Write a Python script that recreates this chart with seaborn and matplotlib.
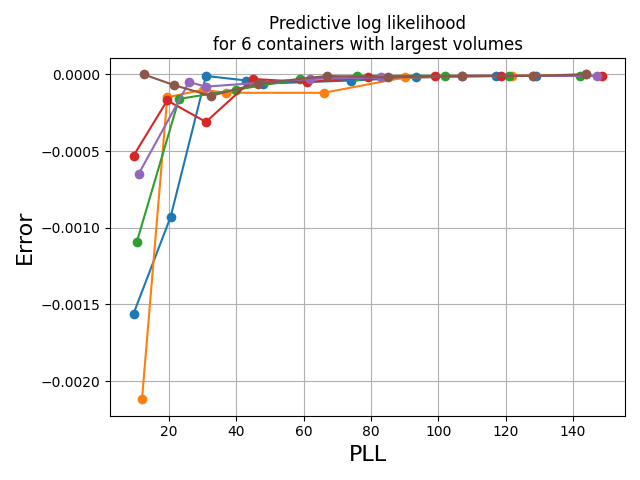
import matplotlib
matplotlib.use("Agg")
import matplotlib.pyplot as plt
import seaborn as sns
import pandas as pd

blue_x = [9.5, 20.5, 31, 43, 48, 74, 93.5, 117, 129]
blue_y = [-0.00156, -0.00093, -0.00001, -0.00004, -0.00006, -0.00004, -0.00002, -0.00001, -0.00001]
orange_x = [12, 19.5, 30, 37, 66, 90, 122, 144]
orange_y = [-0.00212, -0.00015, -0.0001, -0.00012, -0.00012, -0.00002, -0.00001, 0.0]
green_x = [10.5, 23, 40, 59, 76, 102, 121, 142]
green_y = [-0.00109, -0.00016, -0.0001, -0.00003, -0.00001, -0.00001, -0.00001, -0.00001]
red_x = [9.5, 19.5, 31, 45, 61, 79, 99, 118.5, 148.5]
red_y = [-0.00053, -0.00017, -0.00031, -0.00003, -0.00005, -0.00002, -0.00001, -0.00001, -0.00001]
purple_x = [11, 26, 31, 62, 83, 107, 128, 147]
purple_y = [-0.00065, -0.00005, -0.00008, -0.00003, -0.00002, -0.00001, -0.00001, -0.00001]
brown_x = [12.5, 21.5, 32.5, 46.5, 67, 85, 107, 128, 144]
brown_y = [0.0, -0.00007, -0.00014, -0.00006, -0.00001, -0.00002, -0.00001, -0.00001, 0.0]

series = [(blue_x, blue_y), (orange_x, orange_y), (green_x, green_y),
          (red_x, red_y), (purple_x, purple_y), (brown_x, brown_y)]
colors = sns.color_palette("tab10")

fig, ax = plt.subplots(figsize=(6.4, 4.8), dpi=100)
for i, (xs, ys) in enumerate(series):
    df = pd.DataFrame({"PLL": xs, "Error": ys})
    sns.lineplot(data=df, x="PLL", y="Error", ax=ax, color=colors[i],
                 marker="o", markersize=7, markeredgewidth=0, sort=False)

ax.grid(True)
ax.set_xlabel("PLL", fontsize=16)
ax.set_ylabel("Error", fontsize=16)
ax.set_title("Predictive log likelihood\nfor 6 containers with largest volumes")
plt.tight_layout()
plt.savefig("out.png")
